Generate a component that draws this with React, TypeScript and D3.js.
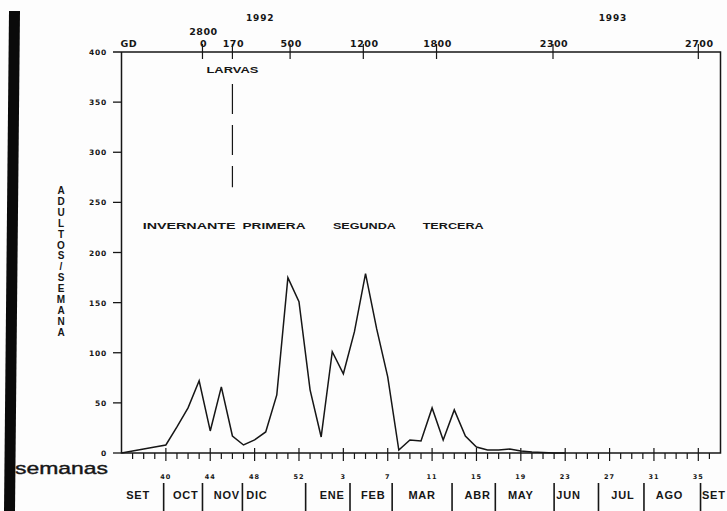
import * as d3 from 'd3'
import { useEffect, useRef } from 'react'

// adults per week, one value per week index (week 36 of 1991 = index 0)
const adultos = [
  0, 2, 4, 6, 8, 26, 45, 72, 22, 66, 17, 8, 13, 21, 58, 175, 151, 63, 16, 101, 79,
  121, 179, 124, 76, 3, 13, 12, 45, 13, 43, 17, 6, 3, 3, 4, 2, 1, 0.5, 0, 0,
]

// week numbers printed under the major ticks (every 4th index)
const semanaLabels = ['40', '44', '48', '52', '3', '7', '11', '15', '19', '23', '27', '31', '35']

// month names and where they sit (in week index units)
const meses = ['SET', 'OCT', 'NOV', 'DIC', 'ENE', 'FEB', 'MAR', 'ABR', 'MAY', 'JUN', 'JUL', 'AGO', 'SET']
const mesPos = [1.5, 5.8, 9.5, 12.2, 19.0, 22.7, 27.1, 32.1, 36.0, 40.3, 45.2, 49.4, 53.4]
const mesSep = [3.8, 7.3, 10.9, 16.6, 20.6, 24.4, 29.8, 33.7, 39.0, 43.0, 47.1, 52.2]

// degree-day (GD) ticks on the top axis
const gdLabels = ['0', '170', '500', '1200', '1800', '2300', '2700']
const gdPos = [7.3, 10.0, 15.2, 21.8, 28.4, 38.9, 52.0]

// generation names
const fases = ['INVERNANTE', 'PRIMERA', 'SEGUNDA', 'TERCERA']
const fasePos = [6.1, 13.75, 21.9, 29.9]
const faseWidth = [93, 63, 63, 61]

const yTicks = [0, 50, 100, 150, 200, 250, 300, 350, 400]

export default function App() {
  const svgRef = useRef<SVGSVGElement>(null)
  const width = 727
  const height = 511

  useEffect(() => {
    if (!svgRef.current) return
    const svg = d3.select(svgRef.current)
    svg.selectAll('*').remove()

    const x = d3.scaleLinear().domain([0, 54]).range([121.5, 720.5])
    const y = d3.scaleLinear().domain([0, 400]).range([453, 52])
    const ink = '#161616'
    const digitFont = '"DejaVu Sans", sans-serif'
    const textFont = '"Liberation Sans", Arial, sans-serif'

    svg.append('rect').attr('width', width).attr('height', height).attr('fill', '#fdfdfd')

    // black bar at the left edge of the scan
    svg.append('path')
      .attr('d', 'M9,11 L20,11 L15,511 L4,511 Z')
      .attr('fill', '#0a0a0a')

    const g = svg.append('g')

    // frame: top, left, right, bottom
    g.append('path')
      .attr('d', `M113,${y(400)} H${x(54)} V${y(0)} H${x(0)} V${y(400)}`)
      .attr('fill', 'none')
      .attr('stroke', ink)
      .attr('stroke-width', 1.5)

    // left axis ticks and labels
    yTicks.forEach((t) => {
      if (t < 400) {
        g.append('line')
          .attr('x1', 113).attr('x2', x(0))
          .attr('y1', y(t)).attr('y2', y(t))
          .attr('stroke', ink).attr('stroke-width', 1.3)
      }
      g.append('text')
        .attr('x', 107)
        .attr('y', y(t) + 3)
        .attr('text-anchor', 'end')
        .attr('font-family', digitFont)
        .attr('font-weight', 'bold')
        .attr('font-size', 7.5)
        .attr('letter-spacing', 0.8)
        .attr('fill', ink)
        .text(String(t))
    })

    // bottom axis ticks
    d3.range(1, 54).forEach((k) => {
      const major = k % 4 === 0
      g.append('line')
        .attr('x1', x(k)).attr('x2', x(k))
        .attr('y1', major ? y(0) - 5 : y(0))
        .attr('y2', y(0) + (major ? 8 : 6))
        .attr('stroke', ink)
        .attr('stroke-width', 1.2)
    })
    semanaLabels.forEach((s, i) => {
      g.append('text')
        .attr('x', x(4 * (i + 1)))
        .attr('y', 479)
        .attr('text-anchor', 'middle')
        .attr('font-family', digitFont)
        .attr('font-weight', 'bold')
        .attr('font-size', 6.5)
        .attr('letter-spacing', 1)
        .attr('fill', ink)
        .text(s)
    })

    // months
    meses.forEach((m, i) => {
      g.append('text')
        .attr('x', x(mesPos[i]))
        .attr('y', 499)
        .attr('text-anchor', 'middle')
        .attr('font-family', textFont)
        .attr('font-weight', 'bold')
        .attr('font-size', 11)
        .attr('letter-spacing', 0.8)
        .attr('fill', ink)
        .text(m)
    })
    mesSep.forEach((p) => {
      g.append('line')
        .attr('x1', x(p)).attr('x2', x(p))
        .attr('y1', 483).attr('y2', 511)
        .attr('stroke', ink).attr('stroke-width', 1.6)
    })

    svg.append('text')
      .attr('x', 15)
      .attr('y', 474)
      .attr('font-family', textFont)
      .attr('font-size', 17)
      .attr('textLength', 93)
      .attr('lengthAdjust', 'spacingAndGlyphs')
      .attr('fill', ink)
      .attr('stroke', ink)
      .attr('stroke-width', 0.4)
      .text('semanas')

    // top degree-day axis
    gdLabels.forEach((l, i) => {
      g.append('line')
        .attr('x1', x(gdPos[i])).attr('x2', x(gdPos[i]))
        .attr('y1', y(400) - 8).attr('y2', y(400) + 7)
        .attr('stroke', ink).attr('stroke-width', 1.2)
      g.append('text')
        .attr('x', x(gdPos[i]) + 1)
        .attr('y', 47)
        .attr('text-anchor', 'middle')
        .attr('font-family', digitFont)
        .attr('font-weight', 'bold')
        .attr('font-size', 9.5)
        .attr('letter-spacing', 0.5)
        .attr('fill', ink)
        .text(l)
    })
    g.append('text')
      .attr('x', x(0) - 1).attr('y', 47)
      .attr('font-family', digitFont).attr('font-weight', 'bold')
      .attr('font-size', 9.5).attr('letter-spacing', 0.5)
      .attr('fill', ink).text('GD')
    g.append('text')
      .attr('x', x(7.3) + 1).attr('y', 35)
      .attr('text-anchor', 'middle')
      .attr('font-family', digitFont).attr('font-weight', 'bold')
      .attr('font-size', 9.5).attr('letter-spacing', 0.5)
      .attr('fill', ink).text('2800')
    ;[['1992', 12.5], ['1993', 44.3]].forEach(([t, p]) => {
      g.append('text')
        .attr('x', x(p as number)).attr('y', 21)
        .attr('text-anchor', 'middle')
        .attr('font-family', digitFont).attr('font-weight', 'bold')
        .attr('font-size', 9).attr('letter-spacing', 0.8)
        .attr('fill', ink).text(t as string)
    })

    // larvae marker
    g.append('text')
      .attr('x', x(10)).attr('y', 73)
      .attr('text-anchor', 'middle')
      .attr('font-family', textFont).attr('font-weight', 'bold')
      .attr('font-size', 9.5).attr('textLength', 52)
      .attr('lengthAdjust', 'spacingAndGlyphs')
      .attr('fill', ink).text('LARVAS')
    g.append('line')
      .attr('x1', x(10)).attr('x2', x(10))
      .attr('y1', y(368)).attr('y2', y(265))
      .attr('stroke', ink).attr('stroke-width', 1.2)
      .attr('stroke-dasharray', '30,11')

    // generations
    fases.forEach((f, i) => {
      g.append('text')
        .attr('x', x(fasePos[i])).attr('y', 229)
        .attr('text-anchor', 'middle')
        .attr('font-family', textFont).attr('font-weight', 'bold')
        .attr('font-size', 9.5).attr('textLength', faseWidth[i])
        .attr('lengthAdjust', 'spacingAndGlyphs')
        .attr('fill', ink).text(f)
    })

    // y title, letters stacked
    const title = 'ADULTOS/SEMANA'.split('')
    title.forEach((c, i) => {
      svg.append('text')
        .attr('x', 61).attr('y', 194 + i * 10.9)
        .attr('text-anchor', 'middle')
        .attr('font-family', textFont).attr('font-weight', 'bold')
        .attr('font-size', 10)
        .attr('fill', ink).text(c)
    })

    // data line
    const line = d3.line<number>()
      .x((_, i) => x(i))
      .y((d) => y(d))
    g.append('path')
      .datum(adultos)
      .attr('d', line)
      .attr('fill', 'none')
      .attr('stroke', ink)
      .attr('stroke-width', 1.5)
      .attr('stroke-linejoin', 'miter')
  }, [])

  return (
    <div style={{ position: 'fixed', left: 0, top: 0 }}>
      <svg ref={svgRef} width={width} height={height} style={{ display: 'block' }} />
    </div>
  )
}
